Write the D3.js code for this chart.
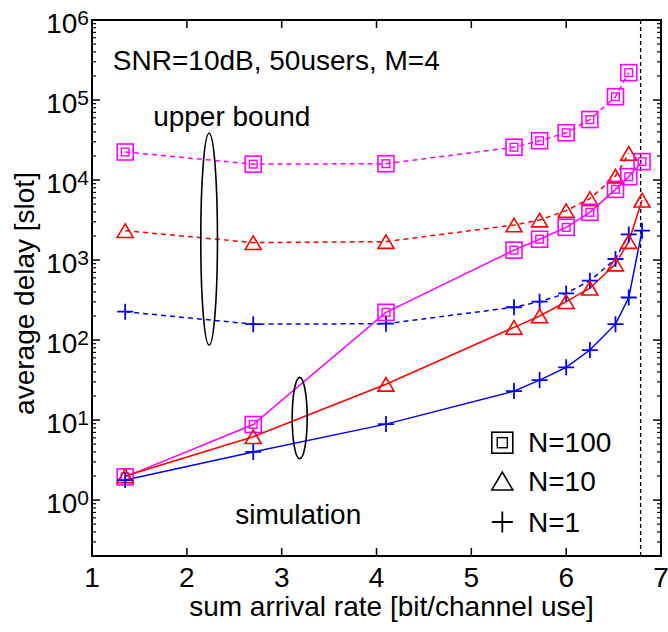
<!DOCTYPE html>
<html>
<head>
<meta charset="utf-8">
<script src="https://cdn.jsdelivr.net/npm/d3@7"></script>
<style>
  html, body { margin: 0; padding: 0; background: #fff; }
  svg { display: block; }
  text { font-family: "Liberation Sans", Arial, Helvetica, sans-serif; fill: #000; }
</style>
</head>
<body>
<svg id="chart" width="668" height="632"></svg>
<script>
// ---- data ----
const xUpper = [1.35, 2.7, 4.1, 5.45, 5.72, 6.0, 6.25, 6.52, 6.66];
const upperN100 = [22400, 15800, 16000, 25700, 31000, 39000, 57000, 110000, 220000];
const upperN10 = [2330, 1650, 1700, 2740, 3160, 4150, 5850, 11200, 21500];
const upperN1 = [226, 158, 160, 257, 302, 383, 552, 1030, 2090];

const xSim = [1.35, 2.7, 4.1, 5.45, 5.72, 6.0, 6.25, 6.52, 6.66, 6.8];
const simN100 = [1.95, 8.8, 222, 1330, 1820, 2560, 3950, 7640, 11000, 17000];
const simN10 = [2.0, 6.2, 28, 144, 200, 302, 444, 890, 1700, 5600];
const simN1 = [1.78, 4.0, 8.9, 23, 31.6, 45.6, 75, 158, 340, 2330];

const xTicks = [1, 2, 3, 4, 5, 6, 7];
const yDecades = [0, 1, 2, 3, 4, 5, 6];
const legendLabels = ["N=100", "N=10", "N=1"];
const limitRate = 6.785;

// ---- layout ----
const svg = d3.select("#chart");
const L = 92, R = 661, T = 20, B = 556;
const x = d3.scaleLinear().domain([1, 7]).range([L, R]);
const y = d3.scaleLog().domain([0.2, 1e6]).range([B, T]);

const FONT = 28;
const series = [
  {x: xUpper, y: upperN100, color: "#ff00ff", dash: "5,4", marker: "square"},
  {x: xUpper, y: upperN10, color: "#ff0000", dash: "5,4", marker: "triangle"},
  {x: xUpper, y: upperN1, color: "#0000ff", dash: "5,4", marker: "plus"},
  {x: xSim, y: simN100, color: "#ff00ff", dash: null, marker: "square"},
  {x: xSim, y: simN10, color: "#ff0000", dash: null, marker: "triangle"},
  {x: xSim, y: simN1, color: "#0000ff", dash: null, marker: "plus"}
];

function drawMarker(g, type, cx, cy, color, s) {
  const h = s / 2;
  if (type === "square") {
    g.append("rect").attr("x", cx - h).attr("y", cy - h).attr("width", s).attr("height", s)
      .attr("fill", "none").attr("stroke", color).attr("stroke-width", 1.6);
    const i = s * 0.24;
    g.append("rect").attr("x", cx - i).attr("y", cy - i).attr("width", 2 * i).attr("height", 2 * i)
      .attr("fill", "none").attr("stroke", color).attr("stroke-width", 1.4);
  } else if (type === "triangle") {
    const th = s * 0.85;
    g.append("path")
      .attr("d", `M${cx},${cy - th / 2}L${cx + h},${cy + th / 2}L${cx - h},${cy + th / 2}Z`)
      .attr("fill", "none").attr("stroke", color).attr("stroke-width", 1.6);
  } else {
    g.append("path")
      .attr("d", `M${cx - h},${cy}L${cx + h},${cy}M${cx},${cy - h}L${cx},${cy + h}`)
      .attr("fill", "none").attr("stroke", color).attr("stroke-width", 1.8);
  }
}

const plot = svg.append("g");

// vertical limit line
plot.append("line")
  .attr("x1", x(limitRate)).attr("x2", x(limitRate))
  .attr("y1", T).attr("y2", B)
  .attr("stroke", "#000").attr("stroke-width", 1.3).attr("stroke-dasharray", "4,3");

// lines
const line = d3.line().x(d => x(d[0])).y(d => y(d[1]));
series.forEach(s => {
  const pts = s.x.map((v, i) => [v, s.y[i]]);
  plot.append("path").attr("d", line(pts))
    .attr("fill", "none").attr("stroke", s.color).attr("stroke-width", 1.5)
    .attr("stroke-dasharray", s.dash);
});
series.forEach(s => {
  s.x.forEach((v, i) => drawMarker(plot, s.marker, x(v), y(s.y[i]), s.color, 16));
});

// ---- axes box ----
const ax = svg.append("g");
ax.append("rect").attr("x", L).attr("y", T).attr("width", R - L).attr("height", B - T)
  .attr("fill", "none").attr("stroke", "#000").attr("stroke-width", 2);

// x ticks (bottom & top, inward)
xTicks.forEach(t => {
  const px = x(t);
  if (t > 1 && t < 7) {
    ax.append("line").attr("x1", px).attr("x2", px).attr("y1", B).attr("y2", B - 8)
      .attr("stroke", "#000").attr("stroke-width", 1.5);
    ax.append("line").attr("x1", px).attr("x2", px).attr("y1", T).attr("y2", T + 8)
      .attr("stroke", "#000").attr("stroke-width", 1.5);
  }
  ax.append("text").attr("x", px).attr("y", 587).attr("text-anchor", "middle")
    .attr("font-size", FONT).text(t);
});

// y ticks (left & right, inward), majors and minors
const yDom = y.domain();
yDecades.forEach(d => {
  const v = Math.pow(10, d);
  const py = y(v);
  if (d < 6) {
    ax.append("line").attr("x1", L).attr("x2", L + 8).attr("y1", py).attr("y2", py)
      .attr("stroke", "#000").attr("stroke-width", 1.5);
    ax.append("line").attr("x1", R).attr("x2", R - 8).attr("y1", py).attr("y2", py)
      .attr("stroke", "#000").attr("stroke-width", 1.5);
  }
  const lbl = ax.append("text").attr("x", 89).attr("y", py + 13).attr("text-anchor", "end");
  lbl.append("tspan").attr("font-size", FONT).text("10");
  lbl.append("tspan").attr("font-size", 21).attr("dy", -8).text(d);
});
for (let d = -1; d < 6; d++) {
  for (let m = 2; m <= 9; m++) {
    const v = m * Math.pow(10, d);
    if (v <= yDom[0] || v >= yDom[1]) continue;
    const py = y(v);
    ax.append("line").attr("x1", L).attr("x2", L + 4).attr("y1", py).attr("y2", py)
      .attr("stroke", "#000").attr("stroke-width", 1.2);
    ax.append("line").attr("x1", R).attr("x2", R - 4).attr("y1", py).attr("y2", py)
      .attr("stroke", "#000").attr("stroke-width", 1.2);
  }
}

// axis titles
ax.append("text").attr("x", (L + R) / 2 + 15).attr("y", 616).attr("text-anchor", "middle")
  .attr("font-size", FONT).text("sum arrival rate [bit/channel use]");
ax.append("text").attr("transform", `translate(34,293.5) rotate(-90)`).attr("text-anchor", "middle")
  .attr("font-size", FONT).text("average delay [slot]");

// ---- annotations ----
const ann = svg.append("g");
ann.append("text").attr("x", x(1.22)).attr("y", y(Math.pow(10, 5.375)))
  .attr("font-size", FONT).text("SNR=10dB, 50users, M=4");
ann.append("text").attr("x", x(1.645)).attr("y", y(Math.pow(10, 4.67)))
  .attr("font-size", FONT).text("upper bound");
ann.append("text").attr("x", x(2.51)).attr("y", y(Math.pow(10, -0.3)))
  .attr("font-size", FONT).text("simulation");

const ellipses = [
  {cx: 2.235, hw: 0.088, top: 38400, bottom: 86.6},
  {cx: 3.19, hw: 0.079, top: 34.2, bottom: 3.28}
];
ellipses.forEach(e => {
  const yt = y(e.top), yb = y(e.bottom);
  ann.append("ellipse").attr("cx", x(e.cx)).attr("cy", (yt + yb) / 2)
    .attr("rx", x(e.cx + e.hw) - x(e.cx)).attr("ry", (yb - yt) / 2)
    .attr("fill", "none").attr("stroke", "#000").attr("stroke-width", 1.6);
});

// ---- legend ----
const leg = svg.append("g");
const legMarkers = ["square", "triangle", "plus"];
const legBase = [451.7, 490.7, 531.7];
const legCenter = [442.7, 481, 522];
legendLabels.forEach((lab, i) => {
  drawMarker(leg, legMarkers[i], 502.3, legCenter[i], "#000", 21);
  leg.append("text").attr("x", 528).attr("y", legBase[i]).attr("font-size", FONT).text(lab);
});
</script>
</body>
</html>
